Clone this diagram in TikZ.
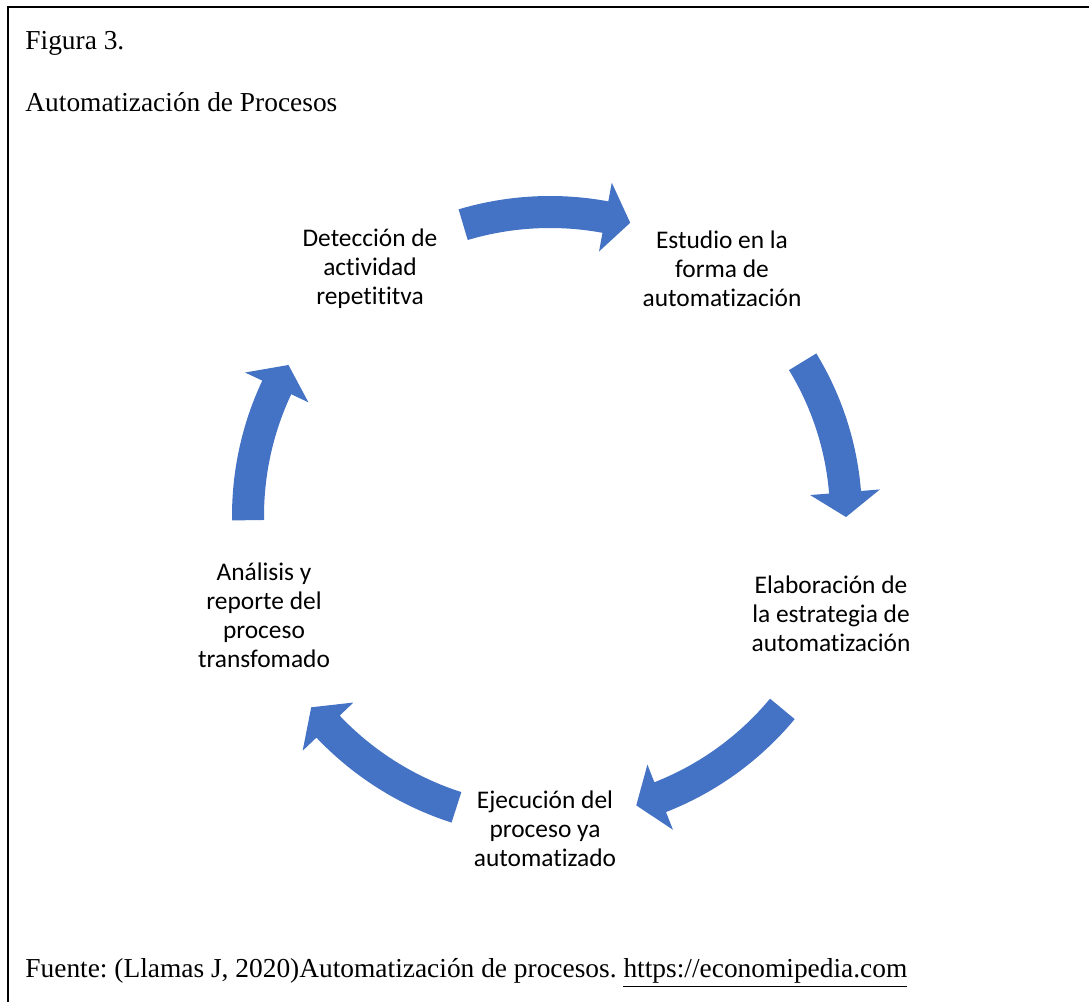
\documentclass[tikz,border=0pt]{standalone}
\usepackage{fontspec}
\setmainfont{Liberation Serif}
\newfontfamily\smartfont[Ligatures=NoCommon]{Carlito}
\definecolor{arrowblue}{RGB}{68,114,196}
\frenchspacing
\begin{document}
\begin{tikzpicture}[x=0.5pt,y=0.5pt,
  plaintext/.style={anchor=base west,inner sep=0pt,font=\fontsize{13.7pt}{16pt}\selectfont},
  cyclelabel/.style={align=center,inner sep=0pt,font=\smartfont\fontsize{12.7pt}{14.5pt}\selectfont},
  cyclearrow/.style={fill=arrowblue,draw=none}]
  \useasboundingbox (0,0) rectangle (1089,1002);
  % frame
  \draw[line width=1pt] (8,0) -- (8,995) -- (1089,995);
  % heading and source
  \node[plaintext] (fig) at (25,952) {Figura 3.};
  \node[plaintext] (title) at (25,890) {Automatización de Procesos};
  \node[plaintext] (source) at (25,24) {Fuente: (Llamas J, 2020)Automatización de procesos. \underline{https://economipedia.com}};
  % cycle steps
  \coordinate (c) at (550,486);
  \node[cyclelabel] (det) at (370,733) {Detección de\\actividad\\repetititva};
  \node[cyclelabel] (est) at (722,733) {Estudio en la\\forma de\\automatización};
  \node[cyclelabel] (ela) at (831,388) {Elaboración de\\la estrategia de\\automatización};
  \node[cyclelabel] (eje) at (545,173) {Ejecución del\\proceso ya\\automatizado};
  \node[cyclelabel] (ana) at (264,387) {Análisis y\\reporte del\\proceso\\transfomado};
  % curved arrows (start angle / tip angle / radius)
  \foreach \a/\b/\r in {106.6/74.7/304, 31.4/-0.2/296, -39.7/-73.4/302, -107.8/-141.3/306, 180.8/150/302}{
    \pgfmathsetmacro\hb{\b+4.8}
    \fill[cyclearrow,shift={(c)}] (\a:\r+16) arc[start angle=\a,end angle=\hb,radius=\r+16]
      -- (\hb:\r+35) -- (\b:\r) -- (\hb:\r-35) -- (\hb:\r-16)
      arc[start angle=\hb,end angle=\a,radius=\r-16] -- cycle;
  }
\end{tikzpicture}
\end{document}
